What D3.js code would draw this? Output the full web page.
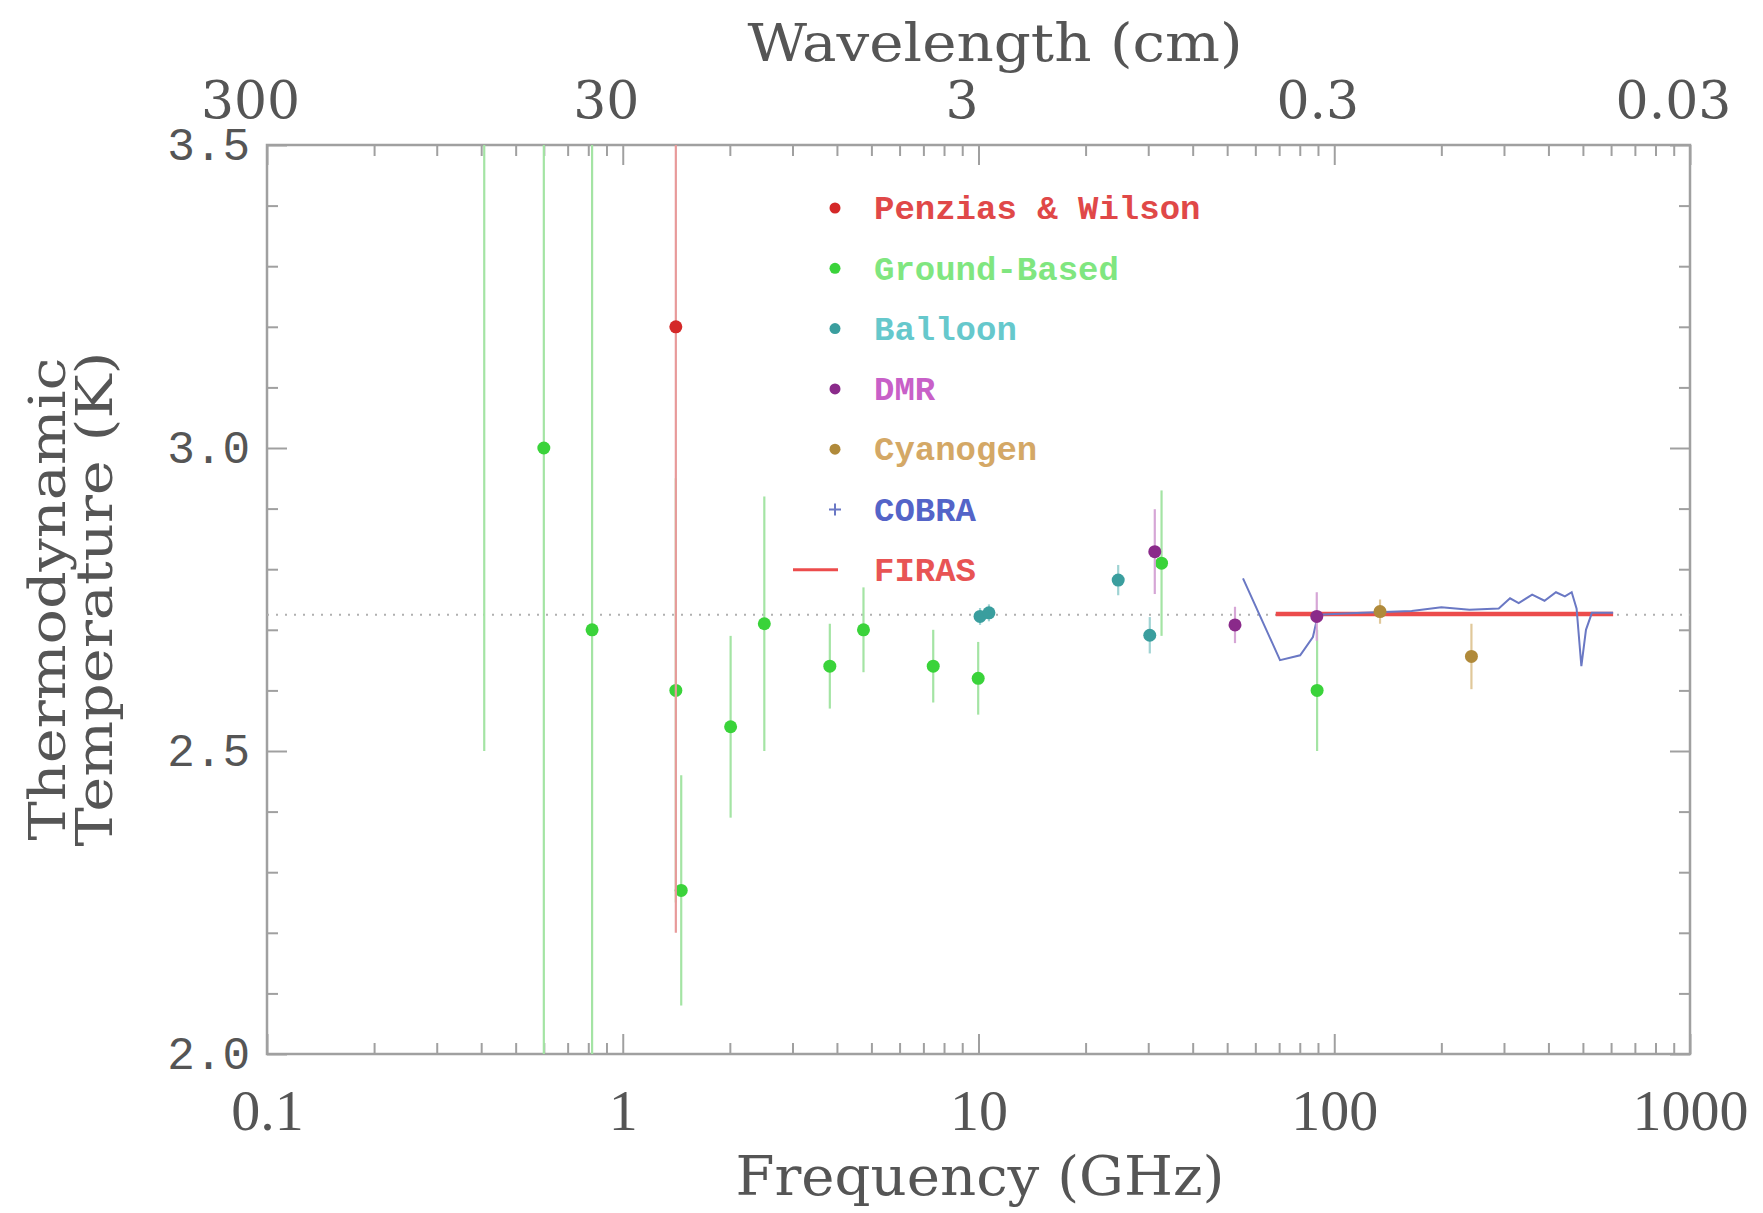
<!DOCTYPE html>
<html>
<head>
<meta charset="utf-8">
<script src="https://cdn.jsdelivr.net/npm/d3@7"></script>
<style>
  html, body { margin: 0; padding: 0; background: #fff; }
  svg { display: block; }
</style>
</head>
<body>
<svg id="chart" width="1763" height="1213"></svg>
<script>
// ---------------- data ----------------
const PW_FREQ = [1.41];
const PW_TEMP = [3.2];
const PW_ERR  = [1.0];

const GROUND_FREQ = [0.408, 0.60, 0.82, 1.41, 1.46, 2.01, 2.50, 3.82, 4.75, 7.46, 9.98, 32.7, 89.5];
const GROUND_TEMP = [3.70, 3.00, 2.70, 2.60, 2.27, 2.54, 2.71, 2.64, 2.70, 2.64, 2.62, 2.81, 2.60];
const GROUND_ERR  = [1.20, 1.20, 1.60, 0.35, 0.19, 0.15, 0.21, 0.07, 0.07, 0.06, 0.06, 0.12, 0.10];

const BALLOON_FREQ = [10.1, 10.7, 24.7, 30.3];
const BALLOON_TEMP = [2.722, 2.728, 2.782, 2.691];
const BALLOON_ERR  = [0.014, 0.014, 0.025, 0.030];

const DMR_FREQ = [31.3, 52.6, 89.3];
const DMR_TEMP = [2.829, 2.708, 2.722];
const DMR_ERR  = [0.07, 0.03, 0.04];

const CYANOGEN_FREQ = [134.5, 243];
const CYANOGEN_TEMP = [2.730, 2.656];
const CYANOGEN_ERR  = [0.02, 0.054];

const COBRA_FREQ = [55.4, 70.4, 80.2, 87.1, 90, 120, 165, 200, 240, 290, 312, 330, 360, 390, 420, 445, 465, 480, 495, 510, 530, 608];
const COBRA_TEMP = [2.785, 2.650, 2.658, 2.688, 2.725, 2.728, 2.731, 2.737, 2.733, 2.735, 2.752, 2.744, 2.758, 2.748, 2.762, 2.755, 2.762, 2.735, 2.640, 2.700, 2.728, 2.728];

const FIRAS_FREQ = [68.5, 608];
const FIRAS_TEMP = [2.726, 2.726];

const CMB_TEMP = 2.725;

const FREQ_TICKS = [0.1, 1, 10, 100, 1000];
const FREQ_LABELS = ["0.1", "1", "10", "100", "1000"];
const WAVE_LABELS = ["300", "30", "3", "0.3", "0.03"];
const TEMP_TICKS = [2.0, 2.5, 3.0, 3.5];
const TEMP_LABELS = ["2.0", "2.5", "3.0", "3.5"];

const LEGEND_NAMES = ["Penzias & Wilson", "Ground-Based", "Balloon", "DMR", "Cyanogen", "COBRA", "FIRAS"];

// ---------------- layout ----------------
const L = 267, R = 1690, T = 145, B = 1054;
const svg = d3.select("#chart");
const x = d3.scaleLog().domain([0.1, 1000]).range([L, R]);
const y = d3.scaleLinear().domain([2.0, 3.5]).range([B, T]);

const AXIS = "#a0a0a0", TXT = "#555";
const minorX = [];
for (let e = -1; e < 3; e++) for (let k = 2; k <= 9; k++) minorX.push(k * Math.pow(10, e));
const minorY = d3.range(20, 36).map(v => v / 10).filter(v => !TEMP_TICKS.includes(v));

function styleAxis(g) {
  g.select(".domain").remove();
  g.selectAll("line").attr("stroke", AXIS).attr("stroke-width", 2);
}

// bottom axis
svg.append("g").attr("transform", `translate(0,${B})`)
  .call(d3.axisBottom(x).tickValues(minorX).tickSize(-11).tickFormat(""))
  .call(styleAxis);
svg.append("g").attr("transform", `translate(0,${B})`)
  .call(d3.axisBottom(x).tickValues(FREQ_TICKS).tickSize(-20).tickPadding(35)
    .tickFormat((d, i) => FREQ_LABELS[i]))
  .call(styleAxis)
  .call(g => g.selectAll("text").attr("fill", TXT)
    .style("font-family", "'Liberation Serif', serif").style("font-size", "58px"));

// top axis (wavelength)
svg.append("g").attr("transform", `translate(0,${T})`)
  .call(d3.axisTop(x).tickValues(minorX).tickSize(-11).tickFormat(""))
  .call(styleAxis);
svg.append("g").attr("transform", `translate(0,${T})`)
  .call(d3.axisTop(x).tickValues(FREQ_TICKS).tickSize(-20).tickPadding(27)
    .tickFormat((d, i) => WAVE_LABELS[i]))
  .call(styleAxis)
  .call(g => g.selectAll("text").attr("fill", TXT).attr("dx", -17)
    .style("font-family", "'DejaVu Serif', serif").style("font-size", "52px"));

// left axis
svg.append("g").attr("transform", `translate(${L},0)`)
  .call(d3.axisLeft(y).tickValues(minorY).tickSize(-11).tickFormat(""))
  .call(styleAxis);
svg.append("g").attr("transform", `translate(${L},0)`)
  .call(d3.axisLeft(y).tickValues(TEMP_TICKS).tickSize(-20).tickPadding(17)
    .tickFormat((d, i) => TEMP_LABELS[i]))
  .call(styleAxis)
  .call(g => g.selectAll("text").attr("fill", TXT)
    .style("font-family", "'Liberation Mono', monospace").style("font-size", "46px"));

// right axis
svg.append("g").attr("transform", `translate(${R},0)`)
  .call(d3.axisRight(y).tickValues(minorY).tickSize(-11).tickFormat(""))
  .call(styleAxis);
svg.append("g").attr("transform", `translate(${R},0)`)
  .call(d3.axisRight(y).tickValues(TEMP_TICKS).tickSize(-20).tickFormat(""))
  .call(styleAxis);

// frame
svg.append("rect").attr("x", L).attr("y", T).attr("width", R - L).attr("height", B - T)
  .attr("fill", "none").attr("stroke", AXIS).attr("stroke-width", 2.5);

// titles
const titleFont = "'DejaVu Serif', serif";
svg.append("text").attr("x", 995).attr("y", 61).attr("text-anchor", "middle")
  .attr("fill", TXT).style("font-family", titleFont).style("font-size", "52px")
  .attr("textLength", 495).attr("lengthAdjust", "spacingAndGlyphs")
  .text("Wavelength (cm)");
svg.append("text").attr("x", 980).attr("y", 1195).attr("text-anchor", "middle")
  .attr("fill", TXT).style("font-family", titleFont).style("font-size", "54px")
  .attr("textLength", 489).attr("lengthAdjust", "spacingAndGlyphs")
  .text("Frequency (GHz)");
const yt = svg.append("text").attr("transform", "translate(0,599) rotate(-90)")
  .attr("text-anchor", "middle").attr("fill", TXT)
  .style("font-family", titleFont).style("font-size", "50px");
yt.append("tspan").attr("x", 0).attr("y", 65)
  .attr("textLength", 483).attr("lengthAdjust", "spacingAndGlyphs").text("Thermodynamic");
yt.append("tspan").attr("x", 0).attr("y", 112)
  .attr("textLength", 495).attr("lengthAdjust", "spacingAndGlyphs").text("Temperature (K)");

// ---------------- plot marks ----------------
svg.append("clipPath").attr("id", "plotclip")
  .append("rect").attr("x", L).attr("y", T).attr("width", R - L).attr("height", B - T);
const plot = svg.append("g").attr("clip-path", "url(#plotclip)");

// CMB reference dotted line
plot.append("line").attr("x1", L).attr("x2", R).attr("y1", y(CMB_TEMP)).attr("y2", y(CMB_TEMP))
  .attr("stroke", "#b0b0b0").attr("stroke-width", 2).attr("stroke-dasharray", "2,7");

function errorSeries(freqs, temps, errs, barColor, dotColor) {
  const data = freqs.map((f, i) => ({ f, t: temps[i], e: errs[i] }));
  plot.append("g").selectAll("line").data(data).join("line")
    .attr("x1", d => x(d.f)).attr("x2", d => x(d.f))
    .attr("y1", d => y(d.t - d.e)).attr("y2", d => y(d.t + d.e))
    .attr("stroke", barColor).attr("stroke-width", 2.2);
  plot.append("g").selectAll("circle").data(data).join("circle")
    .attr("cx", d => x(d.f)).attr("cy", d => y(d.t)).attr("r", 6.5)
    .attr("fill", dotColor);
}

const C = {
  pw: "#d42828", pwBar: "#e89a9a",
  ground: "#3ad33a", groundBar: "#a4e4a4",
  balloon: "#3a9e9e", balloonBar: "#9fd3d3",
  dmr: "#8a2a8a", dmrBar: "#d6a6d6",
  cyan: "#b08a3a", cyanBar: "#e0c89a",
  cobra: "#6a78c4", firas: "#ec4c4c"
};

errorSeries(GROUND_FREQ, GROUND_TEMP, GROUND_ERR, C.groundBar, C.ground);
errorSeries(PW_FREQ, PW_TEMP, PW_ERR, C.pwBar, C.pw);
errorSeries(BALLOON_FREQ, BALLOON_TEMP, BALLOON_ERR, C.balloonBar, C.balloon);

// FIRAS line
const line = d3.line().x(d => x(d[0])).y(d => y(d[1]));
plot.append("path").datum(FIRAS_FREQ.map((f, i) => [f, FIRAS_TEMP[i]]))
  .attr("d", line).attr("fill", "none").attr("stroke", C.firas).attr("stroke-width", 4.5);

// COBRA line
plot.append("path").datum(COBRA_FREQ.map((f, i) => [f, COBRA_TEMP[i]]))
  .attr("d", line).attr("fill", "none").attr("stroke", C.cobra).attr("stroke-width", 2);

errorSeries(DMR_FREQ, DMR_TEMP, DMR_ERR, C.dmrBar, C.dmr);
errorSeries(CYANOGEN_FREQ, CYANOGEN_TEMP, CYANOGEN_ERR, C.cyanBar, C.cyan);

// ---------------- legend ----------------
const legendText = ["#e04848", "#80e680", "#66c8cc", "#c860c8", "#d4a866", "#5464c8", "#e85454"];
const legendMark = [C.pw, C.ground, C.balloon, C.dmr, C.cyan, C.cobra, C.firas];
const lg = svg.append("g");
LEGEND_NAMES.forEach((name, i) => {
  const cy = 208 + i * 60.3;
  if (name === "FIRAS") {
    lg.append("line").attr("x1", 793).attr("x2", 838).attr("y1", cy).attr("y2", cy)
      .attr("stroke", legendMark[i]).attr("stroke-width", 3);
  } else if (name === "COBRA") {
    lg.append("path").attr("d", `M829,${cy}H841M835,${cy - 6}V${cy + 6}`)
      .attr("stroke", legendMark[i]).attr("stroke-width", 2);
  } else {
    lg.append("circle").attr("cx", 835).attr("cy", cy).attr("r", 5.5).attr("fill", legendMark[i]);
  }
  lg.append("text").attr("x", 874).attr("y", cy).attr("dy", "0.33em")
    .attr("fill", legendText[i])
    .style("font-family", "'Liberation Mono', monospace").style("font-size", "34px")
    .style("font-weight", "bold")
    .text(name);
});
</script>
</body>
</html>
